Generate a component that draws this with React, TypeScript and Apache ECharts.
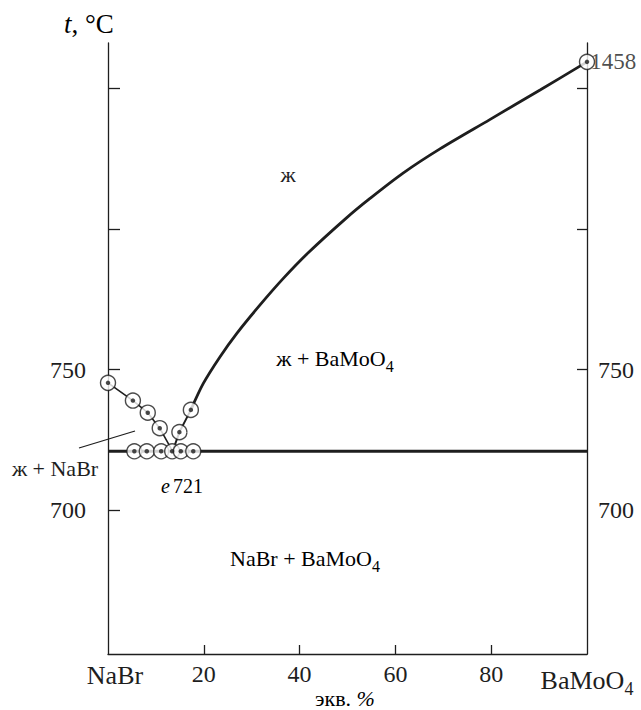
import React, { useEffect, useRef } from "react";
import * as echarts from "echarts";

// x: эквивалентные %, BaMoO4 content; y: t, °C
const xTickValues = [20, 40, 60, 80];
const xLabelValues = [0, 20, 40, 60, 80, 100];
const yTickValuesLeft = [700, 750, 800, 850];
const yTickValuesRight = [750, 800, 850];
const yLabelValues = [700, 750];

const eutecticT = 721;
const eutecticX = 13.5;

// NaBr liquidus branch (straight segments between experimental points)
const liquidusNaBr: number[][] = [
  [0, 745.3], [5.2, 739.0], [8.3, 734.7], [10.8, 729.2], [eutecticX, eutecticT],
];
// lower part of BaMoO4 liquidus
const liquidusBaLow: number[][] = [
  [eutecticX, eutecticT], [14.9, 727.8], [17.3, 735.7],
];
// smooth BaMoO4 liquidus up to the (broken-scale) melting point
const liquidusBaCurve: number[][] = [
  [17.3, 735.7], [19.9, 745.1], [23.4, 754.6], [26.9, 762.9], [31.7, 772.9],
  [36.6, 782.4], [41.8, 791.5], [49.8, 803.9], [54.7, 810.8], [61.6, 819.8],
  [69.3, 828.4], [79.7, 838.8], [90.2, 849.3], [100, 859.3],
];
const eutecticLine: number[][] = [[0, eutecticT], [100, eutecticT]];

const liquidusPoints: number[][] = [
  [0, 745.3], [5.2, 739.0], [8.3, 734.7], [10.8, 729.2], [14.9, 727.8], [17.3, 735.7],
];
const eutecticPoints: number[][] = [
  [5.5, eutecticT], [8.1, eutecticT], [11.1, eutecticT], [13.4, eutecticT], [15.2, eutecticT], [17.8, eutecticT],
];
// BaMoO4 melting point, 1458 °C, drawn at the top of the broken axis
const meltBaMoO4: number[][] = [[100, 859.3]];
const meltBaMoO4Label = "1458";

const FONT = '"Liberation Serif", "DejaVu Serif", serif';
const INK = "#1e1e1e";

export default function App() {
  const ref = useRef<HTMLDivElement>(null);
  useEffect(() => {
    if (!ref.current) return;
    const chart = echarts.init(ref.current, undefined, { renderer: "svg" });
    const axisLineStyle = { color: INK, width: 1.3 };
    const subRich = {
      n: { fontFamily: FONT, fontSize: 22, color: INK },
      s: { fontFamily: FONT, fontSize: 16, color: INK, padding: [16, 0, 0, 0] },
      i: { fontFamily: FONT, fontSize: 22, color: INK, fontStyle: "italic" },
    };
    const circleStyle = { color: "#fff", borderColor: INK, borderWidth: 1.4 };
    const option: any = {
      animation: false,
      grid: { left: 108, right: 54, top: 43, bottom: 56 },
      xAxis: {
        type: "value",
        min: 0,
        max: 100,
        interval: 20,
        axisLine: { show: true, onZero: false, lineStyle: axisLineStyle },
        axisTick: { show: true, inside: true, length: 9, customValues: xTickValues, lineStyle: axisLineStyle },
        axisLabel: {
          customValues: xLabelValues,
          margin: 8,
          fontFamily: FONT,
          fontSize: 24,
          color: INK,
          formatter: (v: number) =>
            v === 0 ? "{p|NaBr}" : v === 100 ? "{b|BaMoO}{s|4}" : String(v),
          rich: {
            p: { fontFamily: FONT, fontSize: 26, color: INK, padding: [0, 0, 0, 14] },
            b: { fontFamily: FONT, fontSize: 26, color: INK },
            s: { fontFamily: FONT, fontSize: 18, color: INK, padding: [18, 0, 0, 0] },
          },
        },
        splitLine: { show: false },
      },
      yAxis: [
        {
          type: "value",
          min: 649,
          max: 866,
          position: "left",
          axisLine: { show: true, onZero: false, lineStyle: axisLineStyle },
          axisTick: { show: true, inside: true, length: 12, customValues: yTickValuesLeft, lineStyle: axisLineStyle },
          axisLabel: { customValues: yLabelValues, margin: 22, fontFamily: FONT, fontSize: 24, color: INK, padding: [8, 0, 0, 0] },
          splitLine: { show: false },
        },
        {
          type: "value",
          min: 649,
          max: 866,
          position: "right",
          axisLine: { show: true, onZero: false, lineStyle: axisLineStyle },
          axisTick: { show: true, inside: true, length: 10, customValues: yTickValuesRight, lineStyle: axisLineStyle },
          axisLabel: { customValues: yLabelValues, margin: 11, fontFamily: FONT, fontSize: 24, color: INK, padding: [14, 0, 0, 0] },
          splitLine: { show: false },
        },
      ],
      series: [
        { type: "line", data: eutecticLine, symbol: "none", lineStyle: { color: INK, width: 2.8 }, z: 2 },
        { type: "line", data: liquidusNaBr, symbol: "none", lineStyle: { color: INK, width: 1.6 }, z: 2 },
        { type: "line", data: liquidusBaLow, symbol: "none", lineStyle: { color: INK, width: 2 }, z: 2 },
        {
          type: "line", data: liquidusBaCurve, symbol: "none", smooth: 0.3,
          lineStyle: { color: INK, width: 2.8 }, z: 2,
        },
        { type: "scatter", data: eutecticPoints, symbol: "circle", symbolSize: 15, itemStyle: circleStyle, clip: false, z: 3 },
        { type: "scatter", data: liquidusPoints, symbol: "circle", symbolSize: 15, itemStyle: circleStyle, clip: false, z: 3 },
        {
          type: "scatter", data: meltBaMoO4, symbol: "circle", symbolSize: 15, itemStyle: circleStyle, clip: false, z: 3,
          label: { show: true, position: "right", distance: 0, offset: [-5, 0], formatter: meltBaMoO4Label, fontFamily: FONT, fontSize: 23, color: INK },
        },
        {
          type: "scatter", data: [...eutecticPoints, ...liquidusPoints, ...meltBaMoO4], symbol: "circle", symbolSize: 4.5,
          itemStyle: { color: INK }, clip: false, z: 4,
        },
      ],
      graphic: [
        {
          type: "text", x: 64, y: 24,
          style: { text: "{i|t}{n|, °C}", align: "left", verticalAlign: "middle",
            rich: { i: { ...subRich.i, fontSize: 27 }, n: { ...subRich.n, fontSize: 27 } } },
        },
        { type: "text", x: 288, y: 174, style: { text: "ж", font: `22px ${FONT}`, fill: INK, align: "center", verticalAlign: "middle" } },
        { type: "text", x: 335, y: 358, style: { text: "{n|ж + BaMoO}{s|4}", align: "center", verticalAlign: "middle", rich: subRich } },
        { type: "text", x: 305, y: 558, style: { text: "{n|NaBr + BaMoO}{s|4}", align: "center", verticalAlign: "middle", rich: subRich } },
        { type: "text", x: 55, y: 468, style: { text: "ж + NaBr", font: `22px ${FONT}`, fill: INK, align: "center", verticalAlign: "middle" } },
        { type: "line", shape: { x1: 79, y1: 448, x2: 135, y2: 431 }, style: { stroke: INK, lineWidth: 1.3 } },
        {
          type: "text", x: 182, y: 486,
          style: { text: "{i|e} {n|721}", align: "center", verticalAlign: "middle",
            rich: { i: { ...subRich.i, fontSize: 20 }, n: { ...subRich.n, fontSize: 20 } } },
        },
        {
          type: "text", x: 345, y: 698,
          style: { text: "{n|экв. }{i|%}", align: "center", verticalAlign: "middle",
            rich: { n: { ...subRich.n, fontSize: 22 }, i: { ...subRich.i, fontSize: 22 } } },
        },
      ],
    };
    chart.setOption(option);
    return () => chart.dispose();
  }, []);
  return <div ref={ref} style={{ width: 641, height: 710, position: "absolute", left: 0, top: 0 }} />;
}
